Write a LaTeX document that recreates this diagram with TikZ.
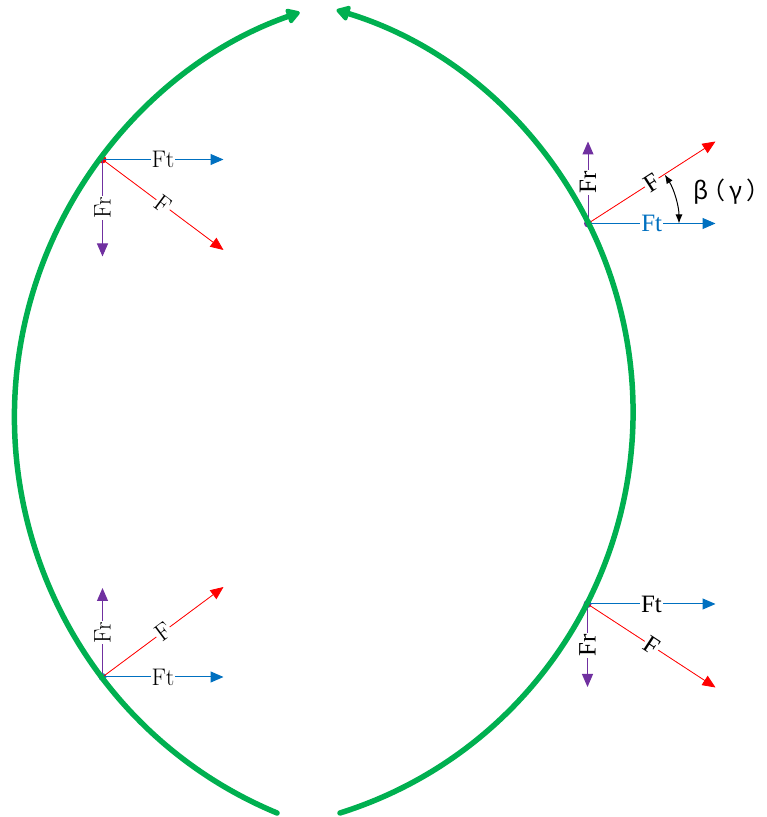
\documentclass[tikz,border=0pt]{standalone}
\usepackage{fontspec}
\newfontfamily\timesfont{Liberation Serif}
\newfontfamily\cjkfont[RawFeature=+palt]{Noto Sans CJK SC}
\usetikzlibrary{arrows.meta}
\definecolor{arcgreen}{HTML}{00B050}
\definecolor{ftblue}{HTML}{0070C0}
\definecolor{frpurple}{HTML}{7030A0}
\definecolor{dotblue}{HTML}{2E75B6}
\begin{document}
\begin{tikzpicture}[x=1pt,y=1pt,
  garc/.style={draw=arcgreen, line width=5.5pt, line cap=round, line join=round,
    -{Triangle[length=15pt,width=17pt,round]}},
  vec/.style={line width=1pt, -{Triangle[length=13pt,width=11pt]}},
  ftvec/.style={vec, draw=ftblue, fill=ftblue},
  frvec/.style={vec, draw=frpurple, fill=frpurple},
  fvec/.style={vec, line width=0.8pt, draw=red, fill=red},
  lbl/.style={fill=white, inner sep=1pt, midway, text=black},
  leftlbl/.style={lbl, font=\fontsize{24}{24}\selectfont},
  rightlbl/.style={lbl, font=\timesfont\fontsize{25}{25}\selectfont},
  dot/.style={radius=4}
]
\useasboundingbox (0,0) rectangle (767,817);

% origins and tips
\coordinate (O1) at (102.5,657.5);
\coordinate (O1t) at (223.5,657.5);
\coordinate (O1r) at (102.5,560.5);
\coordinate (O1f) at (223.5,567);

\coordinate (O2) at (102.5,140);
\coordinate (O2t) at (223.5,140);
\coordinate (O2r) at (102.5,229);
\coordinate (O2f) at (223.5,230);

\coordinate (O3) at (588,593.5);
\coordinate (O3t) at (715.5,593.5);
\coordinate (O3r) at (588,675.5);
\coordinate (O3f) at (715.5,675.5);

\coordinate (O4) at (587.5,213);
\coordinate (O4t) at (715.5,213);
\coordinate (O4r) at (587.5,130);
\coordinate (O4f) at (715.5,129.5);

% dots
\fill[red] (O1) circle[dot];
\fill[dotblue] (O2) circle[dot];
\fill[frpurple] (O3) circle[dot];
\fill[frpurple] (O4) circle[dot];

% top-left group
\draw[ftvec] (O1) -- (O1t) node[leftlbl] {Ft};
\draw[frvec] (O1) -- (O1r) node[leftlbl, rotate=90] {Fr};
\draw[fvec] (O1) -- (O1f) node[leftlbl, sloped] {F};

% bottom-left group
\draw[ftvec] (O2) -- (O2t) node[leftlbl] {Ft};
\draw[frvec] (O2) -- (O2r) node[leftlbl, rotate=90] {Fr};
\draw[fvec] (O2) -- (O2f) node[leftlbl, sloped] {F};

% top-right group
\draw[ftvec] (O3) -- (O3t) node[rightlbl, text=ftblue] {Ft};
\draw[frvec] (O3) -- (O3r) node[rightlbl, rotate=90] {Fr};
\draw[fvec] (O3) -- (O3f) node[rightlbl, sloped] {F};
\draw[line width=1pt, {Latex[length=9pt,width=7pt]}-{Latex[length=9pt,width=7pt]}]
  (O3) ++(0:91) arc[start angle=0, end angle=32.5, radius=91];
\node[anchor=west, inner sep=0pt, font=\cjkfont\fontsize{24}{24}\selectfont] (beta) at (693,625) {β\kern4pt（\kern5ptγ\kern5pt）};

% bottom-right group
\draw[ftvec] (O4) -- (O4t) node[rightlbl] {Ft};
\draw[frvec] (O4) -- (O4r) node[rightlbl, rotate=90] {Fr};
\draw[fvec] (O4) -- (O4f) node[rightlbl, sloped] {F};

% green arcs
\coordinate (CL) at (437.5,400);
\coordinate (CR) at (216,405);
\draw[garc] (CL) ++(247.7:423 and 428) arc[start angle=247.7, end angle=109, x radius=423, y radius=428];
\draw[garc] (CR) ++(-72.7:417 and 420) arc[start angle=-72.7, end angle=73.2, x radius=417, y radius=420];
\end{tikzpicture}
\end{document}
